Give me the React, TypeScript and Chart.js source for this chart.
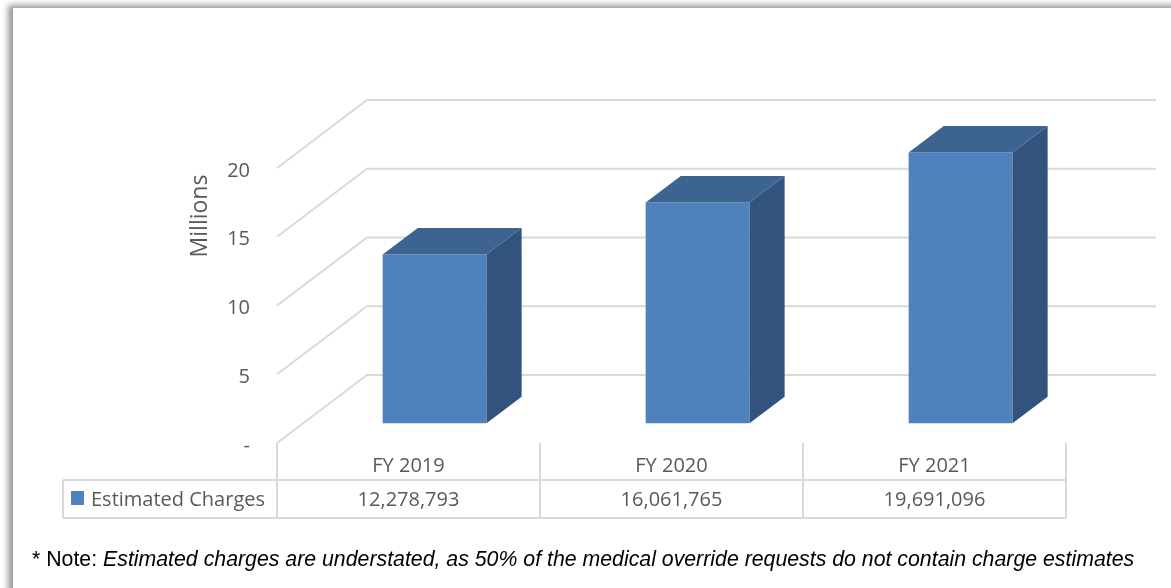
import React, { useEffect, useRef } from "react";
import { Chart, registerables } from "chart.js";

Chart.register(...registerables);

const categories = ["FY 2019", "FY 2020", "FY 2021"];
const seriesName = "Estimated Charges";
const estimatedCharges = [12278793, 16061765, 19691096];
const yMax = 20000000;
const yStep = 5000000;
const axisTitle = "Millions";
const notePrefix = "* Note: ";
const noteText =
  "Estimated charges are understated, as 50% of the medical override requests do not contain charge estimates";

const DEPTH_X = 90;
const DEPTH_Y = -68;
const BAR_FRONT = 0.29;
const BAR_DEPTH = 0.39;
const GRID = "#D9D9D9";
const TEXT = "#595959";
const FRONT = "#4F81BD";
const TOP = "#3D6491";
const SIDE = "#32537D";
const FONT = "'Open Sans', sans-serif";

const threeD = {
  id: "threeD",
  beforeDatasetsDraw(chart: any) {
    const { ctx, chartArea: a } = chart;
    const y = chart.scales.y;
    ctx.save();
    ctx.strokeStyle = GRID;
    ctx.lineWidth = 2;
    y.ticks.forEach((t: any) => {
      const yf = y.getPixelForValue(t.value);
      ctx.beginPath();
      ctx.moveTo(a.left, yf);
      ctx.lineTo(a.left + DEPTH_X, yf + DEPTH_Y);
      ctx.lineTo(a.right + DEPTH_X, yf + DEPTH_Y);
      ctx.stroke();
    });
    ctx.restore();
    ctx.save();
    ctx.translate(BAR_FRONT * DEPTH_X, BAR_FRONT * DEPTH_Y);
  },
  afterDatasetsDraw(chart: any) {
    const ctx = chart.ctx;
    ctx.restore();
    const ox = BAR_FRONT * DEPTH_X;
    const oy = BAR_FRONT * DEPTH_Y;
    const dx = BAR_DEPTH * DEPTH_X;
    const dy = BAR_DEPTH * DEPTH_Y;
    const meta = chart.getDatasetMeta(0);
    ctx.save();
    meta.data.forEach((bar: any) => {
      const { x, y, base, width } = bar.getProps(["x", "y", "base", "width"], true);
      const x1 = x - width / 2 + ox;
      const x2 = x + width / 2 + ox;
      const yt = y + oy;
      const yb = base + oy;
      ctx.fillStyle = TOP;
      ctx.beginPath();
      ctx.moveTo(x1, yt);
      ctx.lineTo(x2, yt);
      ctx.lineTo(x2 + dx, yt + dy);
      ctx.lineTo(x1 + dx, yt + dy);
      ctx.closePath();
      ctx.fill();
      ctx.fillStyle = SIDE;
      ctx.beginPath();
      ctx.moveTo(x2, yt);
      ctx.lineTo(x2 + dx, yt + dy);
      ctx.lineTo(x2 + dx, yb + dy);
      ctx.lineTo(x2, yb);
      ctx.closePath();
      ctx.fill();
    });
    ctx.restore();
  },
  afterDraw(chart: any) {
    const { ctx, chartArea: a } = chart;
    const xs = chart.scales.x;
    const half = (xs.getPixelForValue(1) - xs.getPixelForValue(0)) / 2;
    const bounds = categories.map((_, i) => xs.getPixelForValue(i) - half);
    bounds.push(xs.getPixelForValue(categories.length - 1) + half);
    const rowTop = a.bottom;
    const rowMid = a.bottom + 37;
    const rowBot = a.bottom + 75;
    const legendLeft = 63;

    ctx.save();
    ctx.strokeStyle = GRID;
    ctx.lineWidth = 2;
    ctx.beginPath();
    bounds.forEach((bx: number) => {
      ctx.moveTo(bx, rowTop);
      ctx.lineTo(bx, rowBot);
    });
    ctx.moveTo(legendLeft, rowMid);
    ctx.lineTo(bounds[bounds.length - 1], rowMid);
    ctx.moveTo(legendLeft, rowBot);
    ctx.lineTo(bounds[bounds.length - 1], rowBot);
    ctx.moveTo(legendLeft, rowMid);
    ctx.lineTo(legendLeft, rowBot);
    ctx.stroke();

    ctx.fillStyle = TEXT;
    ctx.font = `20px ${FONT}`;
    ctx.textAlign = "center";
    ctx.textBaseline = "middle";
    categories.forEach((c, i) => {
      const cx = xs.getPixelForValue(i);
      ctx.fillText(c, cx, (rowTop + rowMid) / 2 + 5);
      ctx.fillText(estimatedCharges[i].toLocaleString("en-US"), cx, (rowMid + rowBot) / 2 + 1);
    });
    ctx.fillStyle = FRONT;
    ctx.fillRect(legendLeft + 8, rowMid + 11, 13, 14);
    ctx.fillStyle = TEXT;
    ctx.textAlign = "left";
    ctx.fillText(seriesName, legendLeft + 28, (rowMid + rowBot) / 2 + 1);

    ctx.save();
    ctx.translate(200, 216);
    ctx.rotate(-Math.PI / 2);
    ctx.textAlign = "center";
    ctx.font = `23px ${FONT}`;
    ctx.fillText(axisTitle, 0, 0);
    ctx.restore();

    ctx.fillStyle = "#000000";
    ctx.textBaseline = "alphabetic";
    ctx.textAlign = "left";
    ctx.font = `21.3px 'Liberation Sans', Arial, sans-serif`;
    ctx.fillText(notePrefix, 32, 566);
    const w = ctx.measureText(notePrefix).width;
    ctx.font = `italic 21.3px 'Liberation Sans', Arial, sans-serif`;
    ctx.fillText(noteText, 32 + w, 566);
    ctx.restore();
  },
};

export default function App() {
  const ref = useRef<HTMLCanvasElement | null>(null);
  useEffect(() => {
    document.body.style.margin = "0";
    if (!ref.current) return;
    const chart = new Chart(ref.current, {
      type: "bar",
      data: {
        labels: categories,
        datasets: [
          {
            label: seriesName,
            data: estimatedCharges,
            backgroundColor: FRONT,
            borderWidth: 0,
            barPercentage: 0.395,
            categoryPercentage: 1,
            clip: false as any,
          },
        ],
      },
      options: {
        animation: false,
        responsive: false,
        devicePixelRatio: 1,
        events: [],
        layout: { padding: { top: 168, bottom: 145, right: 105, left: 0 } },
        plugins: { legend: { display: false }, tooltip: { enabled: false } },
        scales: {
          x: { display: false, grid: { display: false } },
          y: {
            min: 0,
            max: yMax,
            border: { display: false },
            grid: { display: false, drawTicks: false },
            afterFit: (s: any) => {
              s.width = 277;
            },
            ticks: {
              stepSize: yStep,
              padding: 27,
              labelOffset: 3,
              color: TEXT,
              font: { family: "'Open Sans', sans-serif", size: 20 },
              callback: (v: any) => (Number(v) === 0 ? "-" : String(Number(v) / 1000000)),
            },
          },
        },
      },
      plugins: [threeD],
    });
    return () => chart.destroy();
  }, []);

  return (
    <div
      style={{
        position: "fixed",
        left: 0,
        top: 0,
        width: 1171,
        height: 588,
        overflow: "hidden",
        background: "#ffffff",
      }}
    >
      <div
        style={{
          position: "absolute",
          left: 13,
          top: 8,
          width: 1400,
          height: 800,
          background: "#ffffff",
          boxShadow: "-5px -3px 6px rgba(0,0,0,0.4)",
        }}
      />
      <canvas
        ref={ref}
        width={1171}
        height={588}
        style={{ position: "absolute", left: 0, top: 0, width: 1171, height: 588 }}
      />
    </div>
  );
}
